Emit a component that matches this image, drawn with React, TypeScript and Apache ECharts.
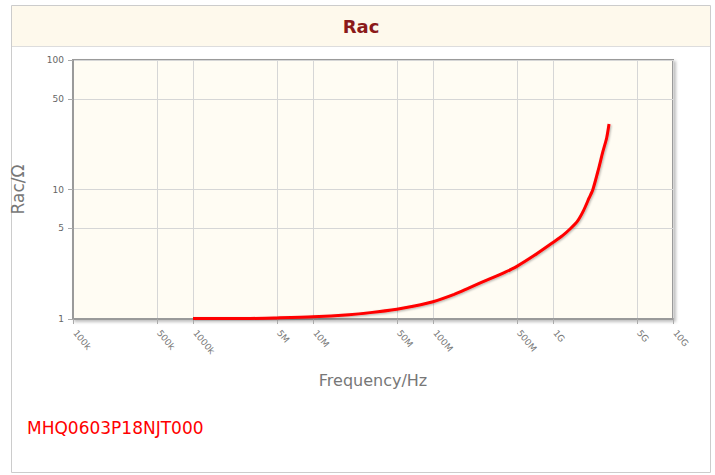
import React, { useEffect, useRef } from "react";
import * as echarts from "echarts";

const frequencies = [1e6, 3e6, 5e6, 1e7, 2e7, 3e7, 5e7, 7e7, 1e8, 1.5e8, 2e8, 3e8, 4e8, 5e8, 7e8, 1e9, 1.2e9, 1.4e9, 1.6e9, 1.8e9, 2e9, 2.15e9, 2.4e9, 2.6e9, 2.8e9, 2.93e9];
const racValues = [1.01, 1.01, 1.02, 1.04, 1.08, 1.12, 1.19, 1.26, 1.36, 1.55, 1.74, 2.05, 2.3, 2.55, 3.1, 3.9, 4.4, 5.0, 5.7, 6.9, 8.6, 10, 14.5, 19.5, 25, 32];

const xTickValues = [1e5, 5e5, 1e6, 5e6, 1e7, 5e7, 1e8, 5e8, 1e9, 5e9, 1e10];
const xTickLabels = ["100k", "500k", "1000k", "5M", "10M", "50M", "100M", "500M", "1G", "5G", "10G"];
const yTickValues = [1, 5, 10, 50, 100];
const yTickLabels = ["1", "5", "10", "50", "100"];

const titleText = "Rac";
const partNumber = "MHQ0603P18NJT000";

export default function App() {
  const ref = useRef<HTMLDivElement>(null);
  useEffect(() => {
    if (!ref.current) return;
    const chart = echarts.init(ref.current, null, { renderer: "svg" });
    const findLabel = (vals: number[], labels: string[], v: number) => {
      for (let i = 0; i < vals.length; i++) {
        if (Math.abs(vals[i] - v) / vals[i] < 1e-6) return labels[i];
      }
      return "";
    };
    chart.setOption({
      animation: false,
      backgroundColor: "#ffffff",
      graphic: [
        {
          type: "rect",
          shape: { x: 11.5, y: 5.5, width: 699, height: 467 },
          style: { fill: "#ffffff", stroke: "#cccccc", lineWidth: 1 },
          z: -10,
          silent: true,
        },
        {
          type: "rect",
          shape: { x: 12, y: 6, width: 698, height: 40.5 },
          style: { fill: "#fef9ec" },
          z: -9,
          silent: true,
        },
        {
          type: "line",
          shape: { x1: 12, y1: 46.5, x2: 710, y2: 46.5 },
          style: { stroke: "#dddddd", lineWidth: 1 },
          z: -8,
          silent: true,
        },
        {
          type: "text",
          x: 361,
          y: 26,
          style: {
            text: titleText,
            fill: "#8b1a1a",
            font: "bold 18px 'DejaVu Sans'",
            align: "center",
            verticalAlign: "middle",
          },
        },
        {
          type: "text",
          x: 27,
          y: 428,
          style: {
            text: partNumber,
            fill: "#ff0000",
            font: "17px 'DejaVu Sans'",
            align: "left",
            verticalAlign: "middle",
          },
        },
      ],
      grid: {
        left: 73,
        right: 42,
        top: 60,
        bottom: 156,
        show: true,
        backgroundColor: "#fffcf3",
        borderColor: "#9a9a9a",
        borderWidth: 2,
        shadowColor: "rgba(0,0,0,0.25)",
        shadowBlur: 3,
        shadowOffsetX: 2,
        shadowOffsetY: 2,
      },
      xAxis: {
        type: "log",
        logBase: 10,
        min: 1e5,
        max: 1e10,
        name: "Frequency/Hz",
        nameLocation: "middle",
        nameGap: 53,
        nameTextStyle: { color: "#777777", fontSize: 16, fontFamily: "DejaVu Sans" },
        axisLine: { show: true, lineStyle: { color: "#9a9a9a", width: 2 } },
        axisTick: {
          show: true,
          customValues: xTickValues,
          length: 5,
          lineStyle: { color: "#aaaaaa" },
        },
        axisLabel: {
          customValues: xTickValues,
          rotate: -50,
          fontSize: 9,
          color: "#777777",
          fontFamily: "DejaVu Sans",
          margin: 10,
          padding: [0, 0, 0, 3],
          formatter: (v: number) => findLabel(xTickValues, xTickLabels, v),
        },
        splitLine: { show: true, lineStyle: { color: "#d6d6d6", width: 1 } },
        minorTick: { show: false },
      },
      yAxis: {
        type: "log",
        logBase: 10,
        min: 1,
        max: 100,
        name: "Rac/Ω",
        nameLocation: "middle",
        nameGap: 47,
        nameTextStyle: { color: "#777777", fontSize: 17, fontFamily: "DejaVu Sans" },
        axisLine: { show: true, lineStyle: { color: "#9a9a9a", width: 2 } },
        axisTick: {
          show: true,
          customValues: yTickValues,
          length: 5,
          lineStyle: { color: "#aaaaaa" },
        },
        axisLabel: {
          customValues: yTickValues,
          fontSize: 9,
          color: "#666666",
          fontFamily: "DejaVu Sans",
          margin: 9,
          formatter: (v: number) => findLabel(yTickValues, yTickLabels, v),
        },
        splitLine: { show: true, lineStyle: { color: "#d6d6d6", width: 1 } },
      },
      series: [
        {
          type: "line",
          data: frequencies.map((f, i) => [f, racValues[i]]),
          smooth: 0.25,
          showSymbol: false,
          lineStyle: {
            color: "#ff0000",
            width: 3,
            shadowColor: "rgba(0,0,0,0.3)",
            shadowBlur: 2,
            shadowOffsetX: 1,
            shadowOffsetY: 1,
          },
          itemStyle: { color: "#ff0000" },
        },
      ],
    });
    return () => chart.dispose();
  }, []);
  return (
    <div
      ref={ref}
      style={{ position: "fixed", left: 0, top: 0, width: 715, height: 475 }}
    />
  );
}
